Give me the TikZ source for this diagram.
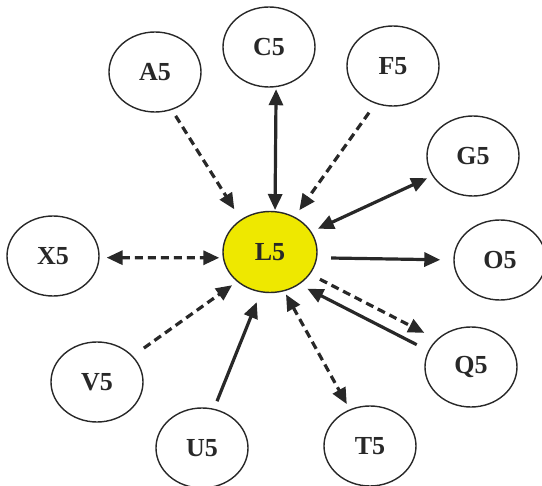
\documentclass[tikz,border=0pt]{standalone}
\usepackage{fontspec}
\setmainfont{Liberation Serif}
\usetikzlibrary{shapes.geometric,arrows.meta}
\definecolor{coreyellow}{RGB}{238,232,0}
\definecolor{inkgray}{RGB}{40,40,40}
\tikzset{
  >={Triangle[length=16pt,width=14pt]},
  factor/.style={ellipse,draw=inkgray,line width=1.4pt,minimum width=92pt,minimum height=80pt,
    inner sep=0pt,text=inkgray,font=\fontsize{26}{29}\selectfont\bfseries},
  link/.style={draw=inkgray,line width=3.2pt,->},
  dlink/.style={link,dash pattern=on 8pt off 5pt}
}

\begin{document}
\begin{tikzpicture}[x=1pt,y=-1pt]
\useasboundingbox (0,0) rectangle (542,486);

\node [factor] (A5) at (155,72) {A5};
\node [factor] (C5) at (269,47) {C5};
\node [factor] (F5) at (393,66) {F5};
\node [factor] (G5) at (473,156) {G5};
\node [factor] (X5) at (53,256) {X5};
\node [factor,fill=coreyellow,minimum width=94pt,minimum height=81pt] (L5) at (270,252) {L5};
\node [factor] (O5) at (500,260) {O5};
\node [factor] (V5) at (97,382) {V5};
\node [factor] (Q5) at (471,367) {Q5};
\node [factor] (U5) at (202,448) {U5};
\node [factor] (T5) at (370,446) {T5};

% links into and out of L5
\draw [dlink,shorten <=7pt,shorten >=12pt] (A5.-66) -- (L5.132);
\draw [link,<->,shorten <=2pt,shorten >=1pt] (C5.-80) -- (L5.83);
\draw [dlink,shorten <=11pt,shorten >=8pt] (F5.-115) -- (L5.55);
\draw [link,<->,shorten <=7pt,shorten >=5.5pt] (L5.26) -- (G5.-154);
\draw [dlink,<->,shorten <=7pt,shorten >=3.5pt] (X5.-2) -- (L5.187);
\draw [link,shorten <=14pt,shorten >=13pt] (L5.-7) -- (O5.180);
\draw [dlink,shorten <=11pt,shorten >=14pt] (L5.-29) -- (Q5.141);
\draw [link,shorten <=13pt,shorten >=9pt] (Q5.159) -- (L5.-48);
\draw [dlink,<->,shorten <=3.5pt,shorten >=6pt] (L5.-70) -- (T5.119);
\draw [link,shorten <=8pt,shorten >=10.5pt] (U5.73) -- (L5.-103);
\draw [dlink,shorten <=13.5pt,shorten >=6pt] (V5.36) -- (L5.-138);
\end{tikzpicture}
\end{document}
